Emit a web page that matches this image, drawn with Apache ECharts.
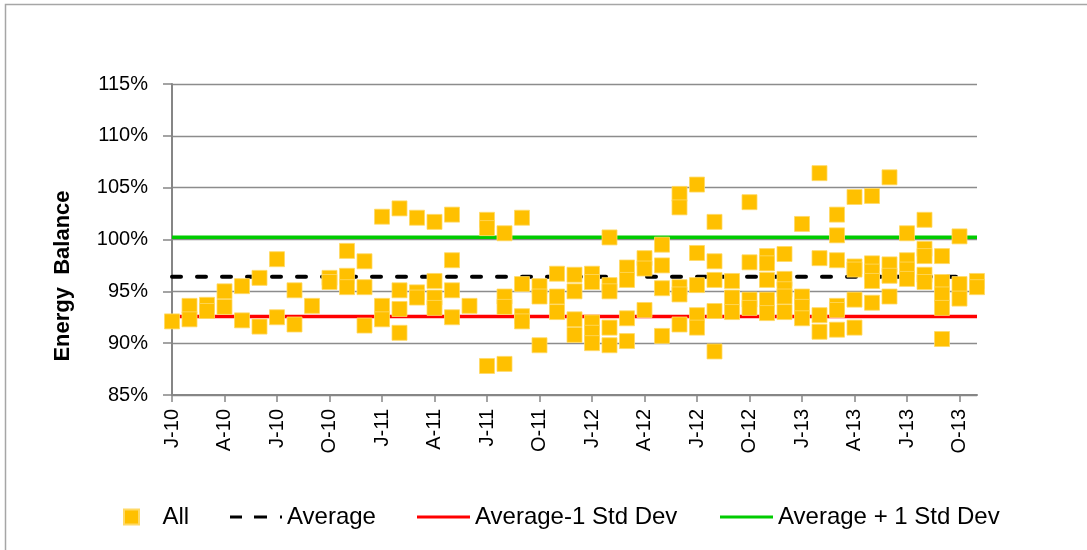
<!DOCTYPE html>
<html>
<head>
<meta charset="utf-8">
<script src="https://cdn.jsdelivr.net/npm/echarts@6/dist/echarts.min.js"></script>
<style>
  html, body { margin: 0; padding: 0; background: #fff; }
  #chart { width: 1087px; height: 550px; }
</style>
</head>
<body>
<div id="chart"></div>
<script>
// months Jan 2010 .. Nov 2013
const months = [
  'J-10','F-10','M-10','A-10','M-10','J-10','J-10','A-10','S-10','O-10','N-10','D-10',
  'J-11','F-11','M-11','A-11','M-11','J-11','J-11','A-11','S-11','O-11','N-11','D-11',
  'J-12','F-12','M-12','A-12','M-12','J-12','J-12','A-12','S-12','O-12','N-12','D-12',
  'J-13','F-13','M-13','A-13','M-13','J-13','J-13','A-13','S-13','O-13','N-13'
];

// energy balance (%) readings per month
const readings = [
  [92.1],
  [93.6, 92.3],
  [93.7, 93.1],
  [95.0, 93.5],
  [95.5, 92.2],
  [96.3, 91.6],
  [98.1, 92.5],
  [95.1, 91.8],
  [93.6],
  [96.3, 95.9],
  [98.9, 96.5, 95.4],
  [97.9, 95.4, 91.7],
  [102.2, 93.6, 92.3],
  [103.0, 95.1, 93.3, 91.0],
  [102.1, 94.9, 94.4],
  [101.7, 96.0, 94.4, 93.4],
  [102.4, 98.0, 95.1, 92.5],
  [93.6],
  [101.9, 101.1, 87.8],
  [100.6, 94.5, 93.5, 88.0],
  [102.1, 95.7, 92.6, 92.1],
  [95.5, 94.5, 89.8],
  [96.7, 94.5, 93.0],
  [96.6, 95.0, 92.3, 90.8],
  [96.7, 95.9, 92.0, 91.0, 90.0],
  [100.2, 95.6, 95.0, 91.5, 89.8],
  [97.3, 96.1, 92.4, 90.2],
  [98.2, 97.2, 93.2],
  [99.5, 97.5, 95.3, 90.7],
  [104.4, 103.1, 95.4, 94.7, 91.8],
  [105.3, 98.7, 95.6, 92.7, 91.5],
  [101.7, 97.9, 96.1, 93.1, 89.2],
  [96.0, 94.4, 93.0],
  [103.6, 97.8, 94.2, 93.4],
  [98.4, 97.7, 96.1, 94.2, 92.9],
  [98.6, 96.2, 95.2, 94.5, 93.0],
  [101.5, 94.5, 93.5, 92.4],
  [106.4, 98.2, 92.7, 91.1],
  [102.4, 100.4, 98.0, 93.6, 93.2, 91.3],
  [104.1, 97.4, 97.1, 94.2, 91.5],
  [104.2, 97.7, 96.9, 96.0, 93.9],
  [106.0, 97.6, 96.5, 94.5],
  [100.6, 98.0, 97.1, 96.2],
  [101.9, 99.1, 98.4, 96.6, 95.9],
  [98.4, 95.9, 94.7, 93.4, 90.4],
  [100.3, 95.7, 94.3],
  [96.0, 95.4]
];

const average = 96.4;
const avgMinusStd = 92.58;
const avgPlusStd = 100.22;

const font = 'Liberation Sans, Arial, sans-serif';

let allPoints = [];
readings.forEach(function (vals, i) {
  vals.forEach(function (v) { allPoints.push([i, v]); });
});

const last = months.length - 1;
const flat = function (v) { return [[0, v], [last, v]]; };

// legend icons, drawn like the spreadsheet ones
const squareIcon = 'path://M0,0h10v10h-10z';
const dashIcon = 'path://M0,0h12v3h-12z M24,0h13v3h-13z M50,0h2v3h-2z';
const lineIcon = 'path://M0,0h53v3h-53z';

const legendBase = {
  top: 505,
  padding: 0,
  itemHeight: 15,
  textStyle: { fontFamily: font, fontSize: 24, color: '#000' },
  selectedMode: false
};

const chart = echarts.init(document.getElementById('chart'));

chart.setOption({
  animation: false,
  backgroundColor: '#fff',
  graphic: [
    {
      type: 'rect',
      shape: { x: 5.5, y: 4.5, width: 1100, height: 600 },
      style: { fill: 'none', stroke: '#a6a6a6', lineWidth: 1.5 },
      silent: true
    },
    {
      type: 'text',
      x: 63, y: 276,
      rotation: Math.PI / 2,
      style: {
        text: 'Energy  Balance',
        font: 'bold 22px ' + font,
        fill: '#000',
        align: 'center',
        verticalAlign: 'middle'
      }
    }
  ],
  legend: [
    Object.assign({}, legendBase, { left: 123, itemWidth: 52, data: [{ name: 'All', icon: squareIcon }] }),
    Object.assign({}, legendBase, { left: 230, itemWidth: 52, data: [{ name: 'Average', icon: dashIcon }] }),
    Object.assign({}, legendBase, { left: 417, itemWidth: 53, data: [{ name: 'Average-1 Std Dev', icon: lineIcon }] }),
    Object.assign({}, legendBase, { left: 720, itemWidth: 53, data: [{ name: 'Average + 1 Std Dev', icon: lineIcon }] })
  ],
  grid: { left: 172, right: 110, top: 84, bottom: 155 },
  xAxis: {
    type: 'category',
    data: months,
    boundaryGap: false,
    axisLine: { lineStyle: { color: '#868686', width: 2 } },
    axisTick: { interval: 2, length: 7, lineStyle: { color: '#868686', width: 1.5 } },
    axisLabel: {
      interval: 2,
      rotate: 90,
      margin: 14,
      fontFamily: font,
      fontSize: 20,
      color: '#000'
    },
    splitLine: { show: false }
  },
  yAxis: {
    type: 'value',
    min: 85,
    max: 115,
    interval: 5,
    axisLine: { show: true, lineStyle: { color: '#868686', width: 2 } },
    axisTick: { show: true, length: 9, lineStyle: { color: '#868686', width: 1.5 } },
    axisLabel: {
      formatter: '{value}%',
      margin: 24,
      fontFamily: font,
      fontSize: 20,
      color: '#000'
    },
    splitLine: { lineStyle: { color: '#8c8c8c', width: 1.3 } }
  },
  series: [
    {
      name: 'Average',
      type: 'line',
      data: flat(average),
      symbol: 'none',
      z: 2,
      lineStyle: { color: '#000', width: 4, type: [9, 16], cap: 'round' },
      itemStyle: { color: '#000' }
    },
    {
      name: 'Average-1 Std Dev',
      type: 'line',
      data: flat(avgMinusStd),
      symbol: 'none',
      z: 2,
      lineStyle: { color: '#ff0000', width: 3.5 },
      itemStyle: { color: '#ff0000' }
    },
    {
      name: 'Average + 1 Std Dev',
      type: 'line',
      data: flat(avgPlusStd),
      symbol: 'none',
      z: 2,
      lineStyle: { color: '#00cc00', width: 3.5 },
      itemStyle: { color: '#00cc00' }
    },
    {
      name: 'All',
      type: 'scatter',
      data: allPoints,
      symbol: 'rect',
      symbolSize: 15,
      z: 5,
      itemStyle: { color: '#FFC000', borderColor: '#FFD966', borderWidth: 0.8, opacity: 1 }
    }
  ]
});
</script>
</body>
</html>
